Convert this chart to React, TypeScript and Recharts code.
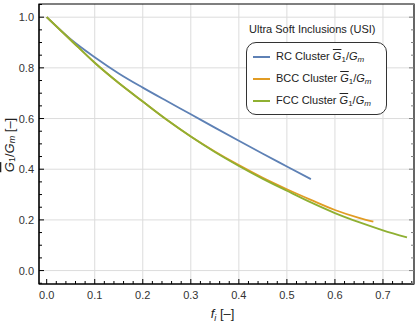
import React from "react";
import { LineChart, Line, XAxis, YAxis, CartesianGrid, Label, ReferenceArea } from "recharts";

// volume fraction of inclusions and normalised shear modulus, per cluster
const fRC = [0, 0.05, 0.1, 0.15, 0.2, 0.25, 0.3, 0.35, 0.4, 0.45, 0.5, 0.55];
const gRC = [1.0, 0.913, 0.842, 0.778, 0.722, 0.669, 0.617, 0.564, 0.512, 0.461, 0.411, 0.361];

const fBCC = [0, 0.05, 0.1, 0.15, 0.2, 0.25, 0.3, 0.35, 0.4, 0.45, 0.5, 0.55, 0.6, 0.65, 0.68];
const gBCC = [1.0, 0.91, 0.82, 0.74, 0.667, 0.595, 0.529, 0.47, 0.416, 0.366, 0.321, 0.279, 0.239, 0.208, 0.193];

const fFCC = [0, 0.05, 0.1, 0.15, 0.2, 0.25, 0.3, 0.35, 0.4, 0.45, 0.5, 0.55, 0.6, 0.65, 0.7, 0.75];
const gFCC = [1.0, 0.91, 0.82, 0.74, 0.667, 0.595, 0.529, 0.468, 0.413, 0.362, 0.315, 0.269, 0.227, 0.191, 0.159, 0.131];

const seriesNames = ["RC Cluster", "BCC Cluster", "FCC Cluster"];
const seriesColors = ["#5E81B5", "#E19C24", "#8FB032"];
const legendTitle = "Ultra Soft Inclusions (USI)";

const xMajor = [0.1, 0.2, 0.3, 0.4, 0.5, 0.6, 0.7];
const yMajor = [0, 0.2, 0.4, 0.6, 0.8, 1.0];
const xTicks = Array.from({ length: 39 }, (_, i) => Math.round(i * 2) / 100);
const yTicks = Array.from({ length: 23 }, (_, i) => Math.round(i * 5 - 5) / 100);

const xDomain = [-0.016, 0.7646];
const yDomain = [-0.053, 1.052];

const toPoints = (f: number[], g: number[]) => f.map((x, i) => ({ x, y: g[i] }));
const seriesData = [toPoints(fRC, gRC), toPoints(fBCC, gBCC), toPoints(fFCC, gFCC)];

const FONT = "'Liberation Sans', Arial, sans-serif";

const isMajor = (v: number, step: number) => Math.abs(v / step - Math.round(v / step)) < 1e-6;

const makeTick =
  (side: "bottom" | "top" | "left" | "right", step: number) => (p: any) => {
    const v = p.payload.value;
    const major = isMajor(v, step);
    const len = major ? 5 : 3;
    const outer = side === "bottom" || side === "left";
    const color = outer ? "#000000" : "#808080";
    let x2 = p.x;
    let y2 = p.y;
    if (side === "bottom") y2 = p.y - len;
    if (side === "top") y2 = p.y + len;
    if (side === "left") x2 = p.x + len;
    if (side === "right") x2 = p.x - len;
    return (
      <g>
        <path d={`M${p.x},${p.y}L${x2},${y2}`} style={{ stroke: color, strokeWidth: 1, fill: "none" }} />
        {outer && major && side === "bottom" && (
          <text x={p.x} y={p.y + 15} textAnchor="middle" fontFamily={FONT} fontSize={11} fill="#333">
            {v.toFixed(1)}
          </text>
        )}
        {outer && major && side === "left" && (
          <text x={p.x - 5} y={p.y + 4} textAnchor="end" fontFamily={FONT} fontSize={11} fill="#333">
            {v.toFixed(1)}
          </text>
        )}
      </g>
    );
  };

const Formula = () => (
  <span>
    <span style={{ fontStyle: "italic", textDecoration: "overline" }}>G</span>
    <sub style={{ fontSize: 8, verticalAlign: -2 }}>1</sub>/<span style={{ fontStyle: "italic" }}>G</span>
    <sub style={{ fontSize: 8, verticalAlign: -2, fontStyle: "italic" }}>m</sub>
  </span>
);

const LegendBox = () => (
  <div style={{ position: "absolute", left: 246, top: 21, fontFamily: FONT, fontSize: 11, color: "#222" }}>
    <div style={{ marginLeft: 3, height: 21, lineHeight: "17px" }}>{legendTitle}</div>
    <div
      style={{
        border: "1px solid #333",
        borderRadius: 10,
        padding: "3px 6px 2px 6px",
        width: 127,
        background: "#fff",
      }}
    >
      {seriesNames.map((name, i) => (
        <div key={name} style={{ display: "flex", alignItems: "center", height: 22 }}>
          <span style={{ width: 17, height: 2, background: seriesColors[i], marginRight: 6 }} />
          <span style={{ whiteSpace: "nowrap" }}>
            {name} <Formula />
          </span>
        </div>
      ))}
    </div>
  </div>
);

export default function App() {
  return (
    <div style={{ position: "absolute", left: 0, top: 0, width: 419, height: 323, background: "#fff" }}>
      <LineChart width={419} height={323} margin={{ top: 3, right: 4, bottom: 0, left: 0 }}>
        <CartesianGrid stroke="#dcdcdc" strokeWidth={1} verticalValues={xMajor} horizontalValues={yMajor} />
        <XAxis
          dataKey="x"
          type="number"
          domain={xDomain}
          allowDataOverflow
          ticks={xTicks}
          interval={0}
          height={39}
          tickSize={0}
          tickMargin={0}
          axisLine={{ stroke: "#000000", strokeWidth: 1 }}
          tick={makeTick("bottom", 0.1)}
        >
          <Label
            content={(lp: any) => {
              const vb = lp.viewBox;
              return (
                <text x={vb.x + vb.width / 2 - 4} y={vb.y + 34} textAnchor="middle" fontFamily={FONT} fontSize={13} fill="#222">
                  <tspan fontStyle="italic">f</tspan>
                  <tspan fontStyle="italic" fontSize={9} dy={3}>i</tspan>
                  <tspan dy={-3}> [–]</tspan>
                </text>
              );
            }}
          />
        </XAxis>
        <XAxis
          xAxisId="top"
          orientation="top"
          type="number"
          domain={xDomain}
          allowDataOverflow
          ticks={xTicks}
          interval={0}
          height={1}
          tickSize={0}
          tickMargin={0}
          axisLine={false}
          tick={makeTick("top", 0.1)}
        />
        <YAxis
          type="number"
          domain={yDomain}
          allowDataOverflow
          ticks={yTicks}
          interval={0}
          width={39}
          tickSize={0}
          tickMargin={0}
          axisLine={{ stroke: "#000000", strokeWidth: 1 }}
          tick={makeTick("left", 0.2)}
        >
          <Label
            content={() => (
              <text
                x={9}
                y={145}
                transform="rotate(-90, 9, 145)"
                textAnchor="middle"
                dominantBaseline="central"
                fontFamily={FONT}
                fontSize={13}
                fill="#222"
              >
                <tspan fontStyle="italic" style={{ textDecoration: "overline" }}>G</tspan>
                <tspan fontSize={9} dy={3}>1</tspan>
                <tspan dy={-3}>/</tspan>
                <tspan fontStyle="italic">G</tspan>
                <tspan fontStyle="italic" fontSize={9} dy={3}>m</tspan>
                <tspan dy={-3}> [–]</tspan>
              </text>
            )}
          />
        </YAxis>
        <YAxis
          yAxisId="right"
          orientation="right"
          type="number"
          domain={yDomain}
          allowDataOverflow
          ticks={yTicks}
          interval={0}
          width={1}
          tickSize={0}
          tickMargin={0}
          axisLine={false}
          tick={makeTick("right", 0.2)}
        />
        <ReferenceArea
          x1={xDomain[0]}
          x2={xDomain[1]}
          y1={yDomain[0]}
          y2={yDomain[1]}
          fill="none"
          fillOpacity={0}
          stroke="#000000"
          strokeWidth={1.2}
          ifOverflow="visible"
        />
        {seriesData.map((d, i) => (
          <Line
            key={seriesNames[i]}
            data={d}
            dataKey="y"
            name={seriesNames[i]}
            type="monotone"
            stroke={seriesColors[i]}
            strokeWidth={1.8}
            dot={false}
            isAnimationActive={false}
          />
        ))}
      </LineChart>
      <LegendBox />
    </div>
  );
}
